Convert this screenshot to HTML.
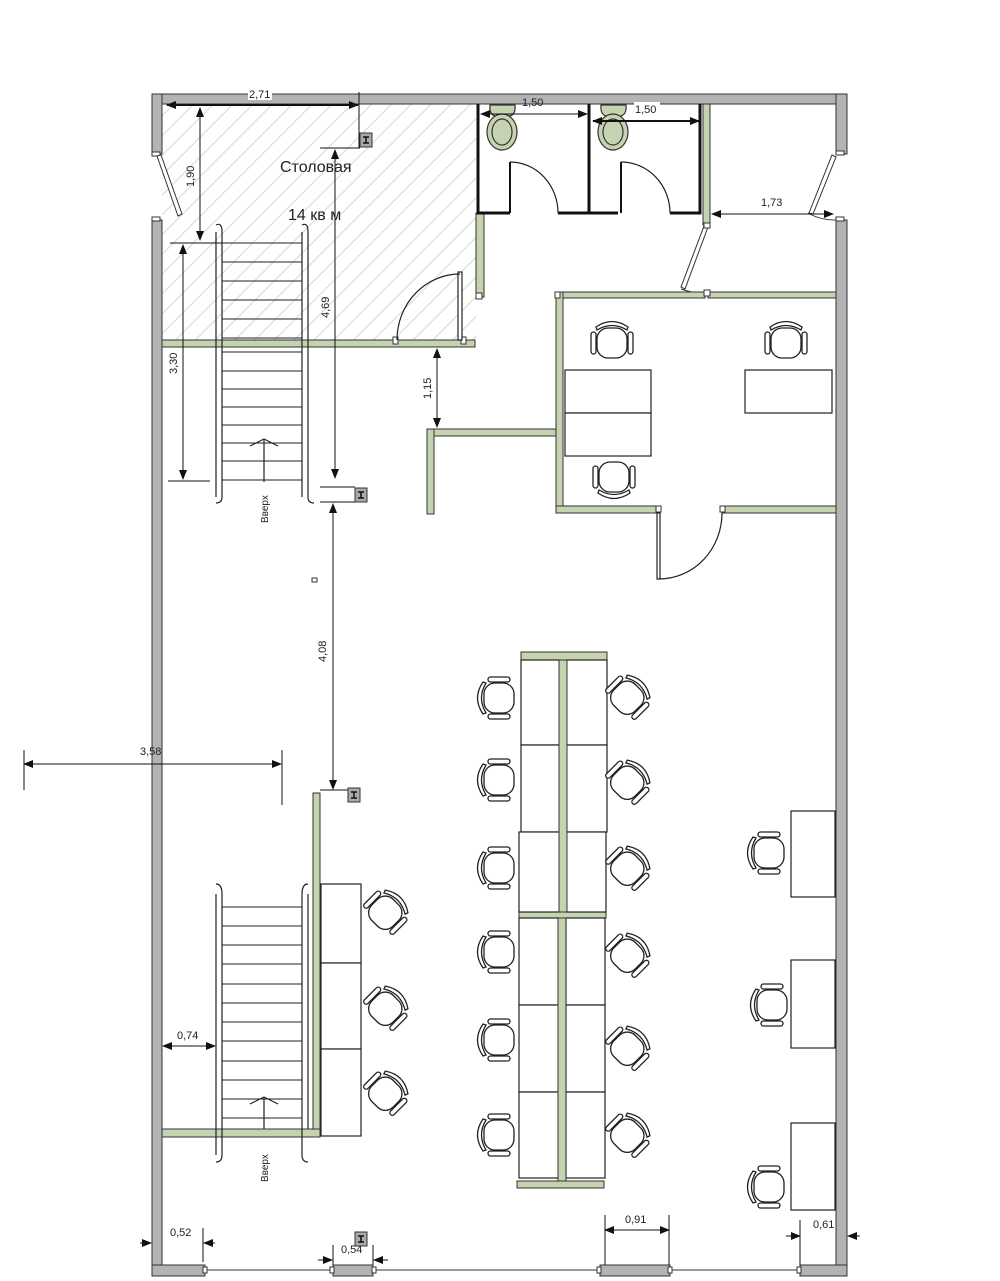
<!DOCTYPE html>
<html><head><meta charset="utf-8"><style>
html,body{margin:0;padding:0;background:#fff}
svg{display:block}
text{font-family:"Liberation Sans","DejaVu Sans",sans-serif;fill:#222}
</style></head><body>
<svg width="1000" height="1281" viewBox="0 0 1000 1281" xmlns="http://www.w3.org/2000/svg">
<defs>
<pattern id="hatch" width="14" height="14" patternUnits="userSpaceOnUse" patternTransform="rotate(45)">
<rect width="14" height="14" fill="#fff"/>
<line x1="0" y1="0" x2="0" y2="14" stroke="#cfdcc4" stroke-width="2"/>
</pattern>
<marker id="ar" markerWidth="10" markerHeight="8" refX="9" refY="4" orient="auto-start-reverse" markerUnits="userSpaceOnUse">
<path d="M0,0 L10,4 L0,8 z" fill="#111"/>
</marker>
<g id="chair" fill="#fff" stroke="#222" stroke-width="1.3">
<rect x="-15" y="-14" width="30" height="30" rx="11"/>
<path d="M-16,-15 Q0,-26 16,-15 L15,-12 Q0,-21 -15,-12 z"/>
<rect x="-21" y="-10" width="5" height="22" rx="2.5"/>
<rect x="16" y="-10" width="5" height="22" rx="2.5"/>
</g>
<g id="col"><rect x="-6" y="-7" width="12" height="14" fill="#aaa" stroke="#333" stroke-width="1"/><path d="M-3,-3 H3 M0,-3 V3 M-3,3 H3" stroke="#111" stroke-width="1.5"/></g>
</defs>

<!-- dining hatched -->
<rect x="162" y="104" width="314" height="237" fill="url(#hatch)"/>

<!-- outer walls -->
<g fill="#b3b3b3" stroke="#333" stroke-width="1">
<rect x="152" y="94" width="695" height="10"/>
<rect x="152" y="94" width="10" height="60"/>
<rect x="152" y="220" width="10" height="1056"/>
<rect x="836" y="94" width="11" height="60"/>
<rect x="836" y="220" width="11" height="1056"/>
<rect x="152" y="1265" width="53" height="11"/>
<rect x="333" y="1265" width="40" height="11"/>
<rect x="600" y="1265" width="70" height="11"/>
<rect x="800" y="1265" width="47" height="11"/>
</g>
<g stroke="#333" stroke-width="1" fill="#fff">
<line x1="205" y1="1270" x2="333" y2="1270"/>
<line x1="373" y1="1270" x2="600" y2="1270"/>
<line x1="670" y1="1270" x2="800" y2="1270"/>
<rect x="203" y="1267" width="4" height="6"/><rect x="330" y="1267" width="4" height="6"/>
<rect x="372" y="1267" width="4" height="6"/><rect x="597" y="1267" width="4" height="6"/>
<rect x="668" y="1267" width="4" height="6"/><rect x="797" y="1267" width="4" height="6"/>
<rect x="152" y="152" width="8" height="4"/><rect x="152" y="217" width="8" height="4"/>
<rect x="836" y="151" width="8" height="4"/><rect x="836" y="217" width="8" height="4"/>
</g>
<!-- windows diagonal -->
<g stroke="#333" stroke-width="1" fill="#fff">
<polygon points="157,156 161,155 182,214 178,216"/>
<polygon points="832,155 836,157 813,214 809,213"/>
<polygon points="704,226 708,227 685,289 681,287"/>
</g>
<path d="M808,213 Q820,220 836,220" fill="none" stroke="#333"/>
<path d="M681,289 Q695,294 707,293" fill="none" stroke="#333"/>

<!-- green inner walls -->
<g fill="#c5d3b0" stroke="#333" stroke-width="1">
<rect x="162" y="340" width="313" height="7"/>
<rect x="476" y="213" width="8" height="84"/>
<rect x="703" y="104" width="7" height="121"/>
<rect x="558" y="292" width="147" height="6"/>
<rect x="708" y="292" width="128" height="6"/>
<rect x="556" y="292" width="7" height="221"/>
<rect x="556" y="506" width="102" height="7"/>
<rect x="722" y="506" width="114" height="7"/>
<rect x="427" y="429" width="129" height="7"/>
<rect x="427" y="429" width="7" height="85"/>
<rect x="313" y="793" width="7" height="344"/>
<rect x="162" y="1129" width="158" height="8"/>
<rect x="521" y="652" width="86" height="8"/>
<rect x="519" y="912" width="87" height="6"/>
<rect x="517" y="1181" width="87" height="7"/>
</g>
<g fill="#fff" stroke="#333" stroke-width="1">
<rect x="476" y="293" width="6" height="6"/><rect x="393" y="337" width="5" height="7"/><rect x="461" y="337" width="5" height="7"/>
<rect x="704" y="223" width="6" height="5"/><rect x="704" y="290" width="6" height="6"/><rect x="555" y="292" width="5" height="6"/>
<rect x="656" y="506" width="5" height="6"/><rect x="720" y="506" width="5" height="6"/>
</g>

<!-- toilets black walls -->
<g stroke="#111" stroke-width="3" fill="none">
<path d="M478,104 V213 H510 M558,213 H588 M589,104 V213 H618 M670,213 H700 V104"/>
<path d="M510,213 V162 M621,213 V162" stroke-width="2"/>
</g>
<path d="M510,162 A48,51 0 0 1 558,213" fill="none" stroke="#222" stroke-width="1.2"/>
<path d="M621,162 A49,51 0 0 1 670,213" fill="none" stroke="#222" stroke-width="1.2"/>
<g fill="#c5d3b0" stroke="#333" stroke-width="1.2">
<path d="M490,105 H515 Q516,114 510,116 H495 Q489,114 490,105z"/>
<ellipse cx="502" cy="132" rx="15" ry="18"/><ellipse cx="502" cy="132" rx="10" ry="13"/>
<path d="M601,105 H626 Q627,114 621,116 H606 Q600,114 601,105z"/>
<ellipse cx="613" cy="132" rx="15" ry="18"/><ellipse cx="613" cy="132" rx="10" ry="13"/>
</g>

<!-- doors -->
<g fill="none" stroke="#222" stroke-width="1.2">
<rect x="458" y="272" width="4" height="68" fill="#fff"/>
<path d="M397,340 A63,66 0 0 1 460,274"/>
<rect x="657" y="513" width="3" height="66" fill="#fff"/>
<path d="M659,579 A63,66 0 0 0 722,513"/>
</g>

<!-- office desks -->
<g fill="#fff" stroke="#222" stroke-width="1.2">
<rect x="565" y="370" width="86" height="43"/>
<rect x="565" y="413" width="86" height="43"/>
<rect x="745" y="370" width="87" height="43"/>
<rect x="521" y="660" width="39" height="85"/><rect x="566" y="660" width="41" height="85"/>
<rect x="521" y="745" width="39" height="87"/><rect x="566" y="745" width="41" height="87"/>
<rect x="519" y="832" width="41" height="80"/><rect x="566" y="832" width="40" height="80"/>
<rect x="519" y="918" width="40" height="87"/><rect x="566" y="918" width="39" height="87"/>
<rect x="519" y="1005" width="40" height="87"/><rect x="566" y="1005" width="39" height="87"/>
<rect x="519" y="1092" width="40" height="86"/><rect x="566" y="1092" width="39" height="86"/>
<rect x="791" y="811" width="44" height="86"/>
<rect x="791" y="960" width="44" height="88"/>
<rect x="791" y="1123" width="44" height="87"/>
<rect x="321" y="884" width="40" height="79"/>
<rect x="321" y="963" width="40" height="86"/>
<rect x="321" y="1049" width="40" height="87"/>
</g>
<g fill="#c5d3b0" stroke="#333" stroke-width="1">
<rect x="559" y="660" width="8" height="252"/>
<rect x="558" y="918" width="8" height="263"/>
</g>

<!-- chairs -->
<use href="#chair" transform="translate(612,342)"/>
<use href="#chair" transform="translate(786,342)"/>
<use href="#chair" transform="translate(614,478) rotate(180)"/>
<use href="#chair" transform="translate(498,698) rotate(-90)"/>
<use href="#chair" transform="translate(498,780) rotate(-90)"/>
<use href="#chair" transform="translate(498,868) rotate(-90)"/>
<use href="#chair" transform="translate(498,952) rotate(-90)"/>
<use href="#chair" transform="translate(498,1040) rotate(-90)"/>
<use href="#chair" transform="translate(498,1135) rotate(-90)"/>
<use href="#chair" transform="translate(628,697) rotate(45)"/>
<use href="#chair" transform="translate(628,782) rotate(45)"/>
<use href="#chair" transform="translate(628,868) rotate(45)"/>
<use href="#chair" transform="translate(628,955) rotate(45)"/>
<use href="#chair" transform="translate(628,1048) rotate(45)"/>
<use href="#chair" transform="translate(628,1135) rotate(45)"/>
<use href="#chair" transform="translate(768,853) rotate(-90)"/>
<use href="#chair" transform="translate(771,1005) rotate(-90)"/>
<use href="#chair" transform="translate(768,1187) rotate(-90)"/>
<use href="#chair" transform="translate(386,912) rotate(45)"/>
<use href="#chair" transform="translate(386,1008) rotate(45)"/>
<use href="#chair" transform="translate(386,1093) rotate(45)"/>

<!-- stairs upper -->
<g stroke="#222" stroke-width="1.2" fill="none">
<path d="M216,225 Q222,222 222,232 V497 Q222,503 216,503"/>
<path d="M216,232 V497"/>
<path d="M302,225 Q308,222 308,232 V497 Q308,503 314,503"/>
<path d="M302,232 V497"/>
<path d="M222,243 H302 M222,262 H302 M222,281 H302 M222,300 H302 M222,319 H302 M222,338 H302 M222,352 H302 M222,371 H302 M222,389 H302 M222,407 H302 M222,425 H302 M222,443 H302 M222,461 H302 M222,480 H302" stroke-width="1"/>
<path d="M264,482 V440 M250,446 L264,439 L278,446"/>
<!-- stairs lower -->
<path d="M216,884 Q222,884 222,894 V1155 Q222,1162 216,1162"/>
<path d="M216,894 V1155"/>
<path d="M308,884 Q302,884 302,894 V1155 Q302,1162 308,1162"/>
<path d="M308,894 V1129"/>
<path d="M222,907 H302 M222,926 H302 M222,945 H302 M222,964 H302 M222,984 H302 M222,1003 H302 M222,1022 H302 M222,1041 H302 M222,1061 H302 M222,1080 H302 M222,1099 H302 M222,1118 H302" stroke-width="1"/>
<path d="M264,1129 V1098 M250,1104 L264,1097 L278,1104"/>
</g>
<text transform="translate(268,523) rotate(-90)" font-size="10">Вверх</text>
<text transform="translate(268,1182) rotate(-90)" font-size="10">Вверх</text>

<!-- dimension lines -->
<g stroke="#111" stroke-width="1" fill="none">
<line x1="167" y1="105" x2="358" y2="105" marker-start="url(#ar)" marker-end="url(#ar)" stroke-width="2"/>
<line x1="359" y1="92" x2="359" y2="148"/>
<line x1="200" y1="108" x2="200" y2="240" marker-start="url(#ar)" marker-end="url(#ar)"/>
<line x1="170" y1="243" x2="222" y2="243"/>
<line x1="183" y1="245" x2="183" y2="479" marker-start="url(#ar)" marker-end="url(#ar)"/>
<line x1="168" y1="481" x2="210" y2="481"/>
<line x1="320" y1="148" x2="360" y2="148"/>
<line x1="335" y1="150" x2="335" y2="478" marker-start="url(#ar)" marker-end="url(#ar)"/>
<line x1="320" y1="487" x2="355" y2="487"/>
<line x1="320" y1="502" x2="355" y2="502"/>
<line x1="333" y1="504" x2="333" y2="789" marker-start="url(#ar)" marker-end="url(#ar)"/>
<line x1="320" y1="790" x2="350" y2="790"/>
<line x1="437" y1="349" x2="437" y2="427" marker-start="url(#ar)" marker-end="url(#ar)"/>
<line x1="24" y1="764" x2="281" y2="764" marker-start="url(#ar)" marker-end="url(#ar)"/>
<line x1="24" y1="750" x2="24" y2="790"/><line x1="282" y1="750" x2="282" y2="805"/>
<line x1="481" y1="114" x2="587" y2="114" marker-start="url(#ar)" marker-end="url(#ar)"/>
<line x1="593" y1="121" x2="699" y2="121" marker-start="url(#ar)" marker-end="url(#ar)" stroke-width="2"/>
<line x1="712" y1="214" x2="833" y2="214" marker-start="url(#ar)" marker-end="url(#ar)"/>
<line x1="163" y1="1046" x2="215" y2="1046" marker-start="url(#ar)" marker-end="url(#ar)"/>
<line x1="605" y1="1230" x2="669" y2="1230" marker-start="url(#ar)" marker-end="url(#ar)"/>
<line x1="605" y1="1215" x2="605" y2="1265"/><line x1="669" y1="1215" x2="669" y2="1265"/>
<line x1="140" y1="1243" x2="151" y2="1243" marker-end="url(#ar)"/>
<line x1="215" y1="1243" x2="204" y2="1243" marker-end="url(#ar)"/>
<line x1="203" y1="1228" x2="203" y2="1262"/>
<line x1="318" y1="1260" x2="332" y2="1260" marker-end="url(#ar)"/>
<line x1="388" y1="1260" x2="374" y2="1260" marker-end="url(#ar)"/>
<line x1="333" y1="1245" x2="333" y2="1265"/><line x1="373" y1="1245" x2="373" y2="1265"/>
<line x1="786" y1="1236" x2="800" y2="1236" marker-end="url(#ar)"/>
<line x1="860" y1="1236" x2="848" y2="1236" marker-end="url(#ar)"/>
<line x1="800" y1="1220" x2="800" y2="1265"/>
</g>
<rect x="312" y="578" width="5" height="4" fill="#fff" stroke="#333"/>

<use href="#col" transform="translate(366,140)"/>
<use href="#col" transform="translate(361,495)"/>
<use href="#col" transform="translate(354,795)"/>
<use href="#col" transform="translate(361,1239)"/>

<!-- labels -->
<g font-size="11">
<rect x="248" y="88" width="24" height="12" fill="#fff"/>
<text x="249" y="98">2,71</text>
<text x="522" y="106">1,50</text>
<rect x="634" y="102" width="26" height="14" fill="#fff"/>
<text x="635" y="113">1,50</text>
<text x="761" y="206">1,73</text>
<text x="140" y="755">3,58</text>
<text x="177" y="1039">0,74</text>
<text x="170" y="1236">0,52</text>
<text x="341" y="1253">0,54</text>
<text x="625" y="1223">0,91</text>
<text x="813" y="1228">0,61</text>
<text transform="translate(194,187) rotate(-90)">1,90</text>
<text transform="translate(177,374) rotate(-90)">3,30</text>
<text transform="translate(329,318) rotate(-90)">4,69</text>
<text transform="translate(431,399) rotate(-90)">1,15</text>
<text transform="translate(326,662) rotate(-90)">4,08</text>
</g>
<text x="280" y="172" font-size="16">Столовая</text>
<text x="288" y="220" font-size="16">14 кв м</text>
</svg>
</body></html>
